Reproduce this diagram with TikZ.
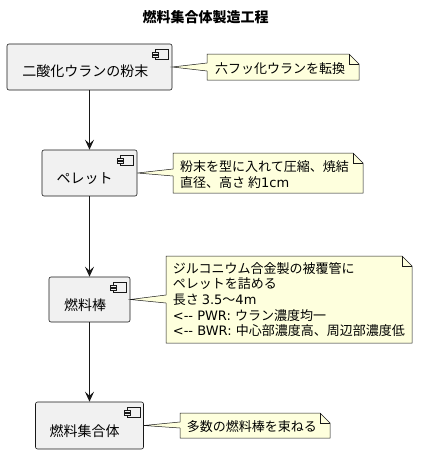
\documentclass[tikz,border=0pt]{standalone}
\usepackage{fontspec}
\setmainfont{Noto Sans CJK JP}
\newfontfamily\lat{DejaVu Sans}
\usetikzlibrary{arrows.meta,calc}
\definecolor{boxfill}{HTML}{F1F1F1}
\definecolor{notefill}{HTML}{FEFFDD}
\definecolor{edge}{HTML}{181818}
\tikzset{
  comp/.style={draw=edge, fill=boxfill, line width=0.6pt, rounded corners=2pt, inner sep=0pt},
  comptext/.style={font=\fontsize{14}{16}\selectfont, inner sep=0pt, text=black},
  notebody/.style={draw=edge, fill=notefill, line width=0.5pt, line join=miter},
  notetext/.style={font=\fontsize{13}{15.6}\selectfont, inner sep=0pt, align=left, anchor=west, text=black},
  flow/.style={draw=edge, line width=1pt, -{Stealth[length=10pt,width=9pt,inset=4pt]}},
  icon/.style={draw=edge, fill=boxfill, line width=0.5pt}
}
\newcommand\compicon[1]{%
  \draw[icon] ($(#1.north east)+(-17,6)$) rectangle ($(#1.north east)+(-4,16)$);
  \draw[icon] ($(#1.north east)+(-20,8.5)$) rectangle ($(#1.north east)+(-14,10.5)$);
  \draw[icon] ($(#1.north east)+(-20,12)$) rectangle ($(#1.north east)+(-14,14)$);
}
\begin{document}
\begin{tikzpicture}[x=1pt,y=-1pt]
\useasboundingbox (0,0) rectangle (425,453);
\fill[white] (0,0) rectangle (425,453);

\node[font=\bfseries\fontsize{14}{16}\selectfont, inner sep=0pt] (title) at (205.5,17.5) {燃料集合体製造工程};

% component boxes
\node[comp, minimum width=165pt, minimum height=46pt] (b1) at (89.5,67) {};
\node[comp, minimum width=95pt, minimum height=46pt] (b2) at (89.5,173) {};
\node[comp, minimum width=81pt, minimum height=45pt] (b3) at (89.5,299.5) {};
\node[comp, minimum width=108pt, minimum height=47pt] (b4) at (89.5,425.5) {};
\compicon{b1}\compicon{b2}\compicon{b3}\compicon{b4}

\node[comptext] (t1) at (85.5,71.5) {二酸化ウランの粉末};
\node[comptext] (t2) at (84.5,178.5) {ペレット};
\node[comptext] (t3) at (85,305) {燃料棒};
\node[comptext] (t4) at (84.7,431) {燃料集合体};

% arrows
\draw[flow] (b1.south) -- (b2.north);
\draw[flow] (b2.south) -- (b3.north);
\draw[flow] (b3.south) -- (b4.north);

% note 1
\draw[notebody] (207,54) -- (349,54) -- (359,64) -- (359,80) -- (207,80) -- (207,71) -- (b1.east) -- (207,63) -- cycle;
\draw[notebody, fill=none] (349,54) -- (349,64) -- (359,64);
\node[notetext] (n1) at (215,68.5) {六フッ化ウランを転換};

% note 2
\draw[notebody] (173,153) -- (353,153) -- (363,163) -- (363,193) -- (173,193) -- (173,176) -- (b2.east) -- (173,169) -- cycle;
\draw[notebody, fill=none] (353,153) -- (353,163) -- (363,163);
\node[notetext] (n2) at (180,174.5) {粉末を型に入れて圧縮、焼結\\直径、高さ 約{\lat 1cm}};

% note 3
\draw[notebody] (166,256) -- (402,256) -- (412,266) -- (412,343) -- (166,343) -- (166,303) -- (b3.east) -- (166,295) -- cycle;
\draw[notebody, fill=none] (402,256) -- (402,266) -- (412,266);
\node[notetext] (n3) at (172.7,299.5) {ジルコニウム合金製の被覆管に\\ペレットを詰める\\長さ {\lat 3.5}〜{\lat 4m}\\{\lat <-{}- PWR: }ウラン濃度均一\\{\lat <-{}- BWR: }中心部濃度高、周辺部濃度低};

% note 4
\draw[notebody] (180,413) -- (320,413) -- (330,423) -- (330,438) -- (180,438) -- (180,428) -- (b4.east) -- (180,422) -- cycle;
\draw[notebody, fill=none] (320,413) -- (320,423) -- (330,423);
\node[notetext] (n4) at (186.7,426.5) {多数の燃料棒を束ねる};
\end{tikzpicture}
\end{document}
